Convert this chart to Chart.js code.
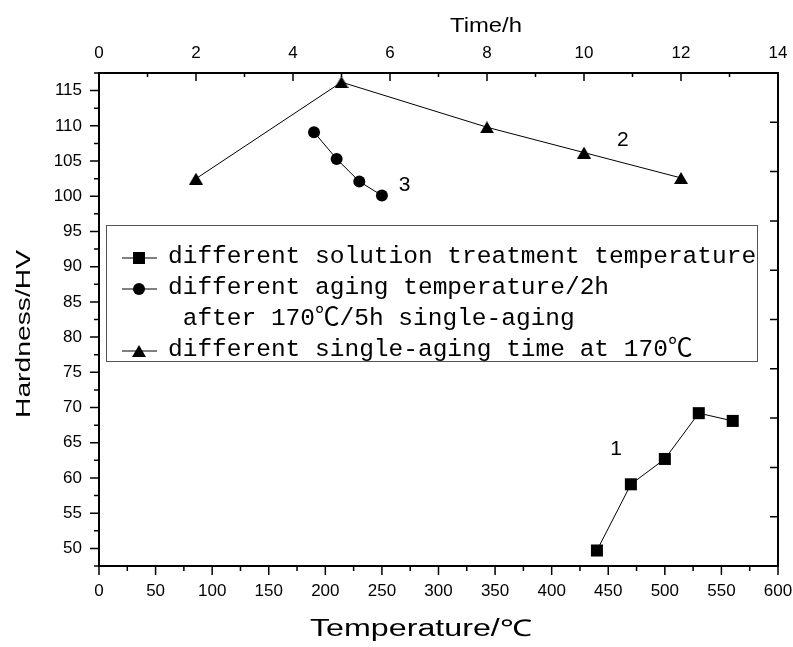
<!DOCTYPE html>
<html>
<head>
<meta charset="utf-8">
<title>Hardness vs temperature / time</title>
<script src="https://cdn.jsdelivr.net/npm/chart.js@4.4.1/dist/chart.umd.min.js"></script>
<style>
  html, body { margin: 0; padding: 0; background: #fff; }
  #wrap { width: 793px; height: 647px; }
</style>
</head>
<body>
<div id="wrap"><canvas id="hardnessChart" width="793" height="647"></canvas></div>
<script>
// curve 1: solution treatment temperature (bottom axis, degC)
const solutionTemps = [440, 470, 500, 530, 560];
const solutionHardness = [49.7, 59.1, 62.7, 69.2, 68.1];
// curve 3: aging temperature, 2h (bottom axis, degC)
const agingTemps = [190, 210, 230, 250];
const agingTempHardness = [109.1, 105.3, 102.1, 100.1];
// curve 2: single-aging time at 170 degC (top axis, h)
const agingHours = [2, 5, 8, 10, 12];
const agingTimeHardness = [102.5, 116.2, 109.8, 106.2, 102.6];

const seriesLabels = [
    ['different solution treatment temperature'],
    ['different aging temperature/2h', ' after 170℃/5h single-aging'],
    ['different single-aging time at 170℃']
];
// curve numbers written next to each curve (data units, same order as datasets)
const curveNumbers = ['1', '3', '2'];
const curveNumberX = [457, 270, 10.8];
const curveNumberY = [64.1, 101.5, 108.0];

// axis ticks
const tempTicks = [0, 50, 100, 150, 200, 250, 300, 350, 400, 450, 500, 550, 600];
const timeTicks = [0, 2, 4, 6, 8, 10, 12, 14];
const hardnessTicks = [50, 55, 60, 65, 70, 75, 80, 85, 90, 95, 100, 105, 110, 115];

const sansFont = "'Liberation Sans', Arial, sans-serif";
const monoFont = "'Liberation Mono', 'Noto Sans CJK SC', monospace";

// triangle marker, drawn centred on its bounding box
const triangleMarker = document.createElement('canvas');
triangleMarker.width = 14;
triangleMarker.height = 12;
(() => {
    const c = triangleMarker.getContext('2d');
    c.fillStyle = '#000';
    c.beginPath();
    c.moveTo(7, 0);
    c.lineTo(14, 12);
    c.lineTo(0, 12);
    c.closePath();
    c.fill();
})();

const toPoints = (xs, ys) => xs.map((x, i) => ({ x: x, y: ys[i] }));

// helpers for the custom drawing
const drawTickSet = (ctx, scale, values, len, horizontal, base, dir) => {
    ctx.beginPath();
    values.forEach(v => {
        const p = scale.getPixelForValue(v);
        if (horizontal) {
            ctx.moveTo(p, base);
            ctx.lineTo(p, base + dir * len);
        } else {
            ctx.moveTo(base, p);
            ctx.lineTo(base + dir * len, p);
        }
    });
    ctx.stroke();
};

const minorValues = (scale) => {
    const major = scale.ticks.map(t => t.value);
    const step = major[1] - major[0];
    const out = [];
    for (let v = major[0] - step / 2; v <= scale.max + 1e-9; v += step) {
        if (v >= scale.min - 1e-9) out.push(v);
    }
    return out;
};

const stretchedText = (ctx, text, x, y, width, rotated) => {
    ctx.save();
    ctx.translate(x, y);
    if (rotated) ctx.rotate(-Math.PI / 2);
    const w = ctx.measureText(text).width;
    ctx.scale(width / w, 1);
    ctx.fillText(text, 0, 0);
    ctx.restore();
};

const drawMarker = (ctx, style, x, y) => {
    ctx.fillStyle = '#000';
    if (style === 'rect') {
        ctx.fillRect(x - 6, y - 6, 12, 12);
    } else if (style === 'circle') {
        ctx.beginPath();
        ctx.arc(x, y, 6, 0, Math.PI * 2);
        ctx.fill();
    } else {
        ctx.drawImage(style, x - style.width / 2, y - style.height / 2);
    }
};

const decorations = {
    id: 'decorations',
    afterDraw(chart) {
        const ctx = chart.ctx;
        const { x, x2, y, y2 } = chart.scales;
        const area = chart.chartArea;
        ctx.save();
        ctx.strokeStyle = '#000';
        ctx.lineWidth = 1.5;

        // tick marks: bottom/left point outward, top/right point inward
        drawTickSet(ctx, x, x.ticks.map(t => t.value), 9, true, area.bottom, 1);
        drawTickSet(ctx, x, minorValues(x), 5, true, area.bottom, 1);
        drawTickSet(ctx, y, y.ticks.map(t => t.value), 9, false, area.left, -1);
        drawTickSet(ctx, y, minorValues(y), 5, false, area.left, -1);
        drawTickSet(ctx, x2, x2.ticks.map(t => t.value), 8, true, area.top, 1);
        drawTickSet(ctx, x2, minorValues(x2), 4, true, area.top, 1);
        drawTickSet(ctx, y2, y2.ticks.map(t => t.value), 8, false, area.right, -1);

        // axis titles
        ctx.fillStyle = '#000';
        ctx.textAlign = 'left';
        ctx.textBaseline = 'alphabetic';
        ctx.font = '23px ' + sansFont;
        stretchedText(ctx, 'Temperature/℃', 310, 636, 222, false);
        ctx.font = '21px ' + sansFont;
        stretchedText(ctx, 'Time/h', 450, 32, 72, false);
        stretchedText(ctx, 'Hardness/HV', 30, 418, 168, true);

        // curve numbers
        ctx.font = '21px ' + sansFont;
        ctx.textAlign = 'center';
        ctx.textBaseline = 'middle';
        chart.data.datasets.forEach((ds, i) => {
            const xs = chart.scales[ds.xAxisID];
            ctx.fillText(curveNumbers[i], xs.getPixelForValue(curveNumberX[i]), y.getPixelForValue(curveNumberY[i]));
        });

        // legend box
        const box = { left: 106, top: 225, right: 757, bottom: 361 };
        ctx.fillStyle = '#fff';
        ctx.fillRect(box.left, box.top, box.right - box.left, box.bottom - box.top);
        ctx.strokeStyle = '#555';
        ctx.lineWidth = 1;
        ctx.strokeRect(box.left + 0.5, box.top + 0.5, box.right - box.left, box.bottom - box.top);

        ctx.font = '24.5px ' + monoFont;
        ctx.textAlign = 'left';
        ctx.textBaseline = 'alphabetic';
        let baseline = 263;
        chart.data.datasets.forEach((ds) => {
            const my = baseline - 5;
            ctx.strokeStyle = '#000';
            ctx.lineWidth = 1;
            ctx.beginPath();
            ctx.moveTo(122, my);
            ctx.lineTo(157, my);
            ctx.stroke();
            drawMarker(ctx, ds.pointStyle, 139, my);
            ctx.fillStyle = '#000';
            ds.legendLines.forEach(line => {
                ctx.fillText(line, 168, baseline);
                baseline += 31;
            });
        });
        ctx.restore();
    }
};

const tickFont = { family: sansFont, size: 17 };
const useTicks = (values) => (scale) => { scale.ticks = values.map(v => ({ value: v })); };
// fixed axis box sizes, no extra label overhang padding
const fixSize = (w, h) => (s) => {
    if (w !== null) s.width = w;
    if (h !== null) s.height = h;
    s.paddingLeft = 0;
    s.paddingRight = 0;
    s.paddingTop = 0;
    s.paddingBottom = 0;
};

new Chart(document.getElementById('hardnessChart'), {
    type: 'line',
    data: {
        datasets: [
            {
                label: seriesLabels[0].join(' '),
                legendLines: seriesLabels[0],
                data: toPoints(solutionTemps, solutionHardness),
                xAxisID: 'x',
                yAxisID: 'y',
                pointStyle: 'rect',
                pointRadius: 8.5
            },
            {
                label: seriesLabels[1].join(' '),
                legendLines: seriesLabels[1],
                data: toPoints(agingTemps, agingTempHardness),
                xAxisID: 'x',
                yAxisID: 'y',
                pointStyle: 'circle',
                pointRadius: 6
            },
            {
                label: seriesLabels[2].join(' '),
                legendLines: seriesLabels[2],
                data: toPoints(agingHours, agingTimeHardness),
                xAxisID: 'x2',
                yAxisID: 'y',
                pointStyle: triangleMarker,
                pointRadius: 7
            }
        ].map(ds => Object.assign(ds, {
            borderColor: '#000',
            borderWidth: 1,
            backgroundColor: '#000',
            pointBackgroundColor: '#000',
            pointBorderColor: '#000',
            pointBorderWidth: 0,
            tension: 0,
            fill: false,
            clip: false
        }))
    },
    options: {
        responsive: false,
        animation: false,
        layout: { padding: 0, autoPadding: false },
        plugins: {
            legend: { display: false },
            tooltip: { enabled: false },
            title: { display: false }
        },
        scales: {
            x: {
                type: 'linear',
                position: 'bottom',
                min: 0,
                max: 600,
                afterBuildTicks: useTicks(tempTicks),
                afterFit: fixSize(null, 81),
                grid: { display: false, drawTicks: false },
                border: { display: true, color: '#000', width: 2 },
                ticks: { padding: 15, font: tickFont, color: '#000', maxRotation: 0, autoSkip: false }
            },
            x2: {
                type: 'linear',
                position: 'top',
                min: 0,
                max: 14,
                afterBuildTicks: useTicks(timeTicks),
                afterFit: fixSize(null, 73),
                grid: { display: false, drawTicks: false },
                border: { display: true, color: '#000', width: 2 },
                ticks: { padding: 9, font: tickFont, color: '#000', maxRotation: 0, autoSkip: false }
            },
            y: {
                type: 'linear',
                position: 'left',
                min: 47.5,
                max: 117.5,
                afterBuildTicks: useTicks(hardnessTicks),
                afterFit: fixSize(99, null),
                grid: { display: false, drawTicks: false },
                border: { display: true, color: '#000', width: 2 },
                ticks: { padding: 17, font: tickFont, color: '#000', autoSkip: false }
            },
            y2: {
                type: 'linear',
                position: 'right',
                min: 0,
                max: 10,
                ticks: { display: false, stepSize: 1 },
                afterFit: fixSize(15, null),
                grid: { display: false, drawTicks: false },
                border: { display: true, color: '#000', width: 2 }
            }
        }
    },
    plugins: [decorations]
});
</script>
</body>
</html>
